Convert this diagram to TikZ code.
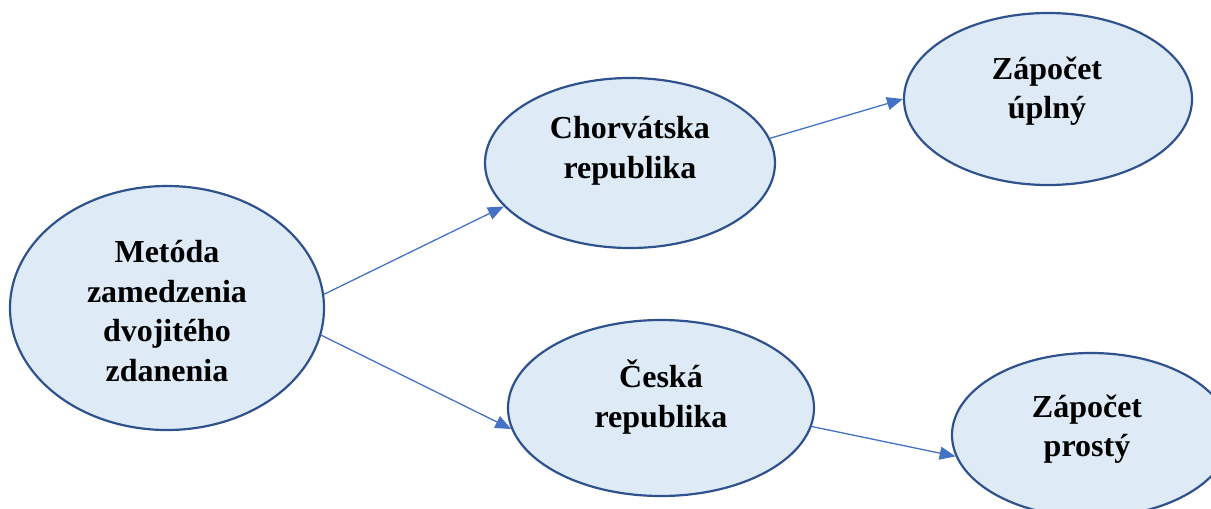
\documentclass[tikz,border=0pt]{standalone}
\usepackage{fontspec}
\setmainfont{Liberation Serif}
\usetikzlibrary{shapes.geometric,arrows.meta}
\definecolor{efill}{RGB}{222,235,247}
\definecolor{edraw}{RGB}{47,82,143}
\definecolor{aline}{RGB}{68,114,196}
\begin{document}
\begin{tikzpicture}[x=0.5pt,y=-0.5pt,
  oval/.style={ellipse,draw=edraw,fill=efill,line width=1.1pt,inner sep=0pt},
  lbl/.style={align=center,font=\fontsize{16}{19.75}\selectfont\bfseries,inner sep=0pt},
  conn/.style={draw=aline,line width=0.65pt,-{Triangle[length=8pt,width=6.5pt]}}]
\useasboundingbox (0,0) rectangle (1211,509);
\clip (0,0) rectangle (1211,509);
\node[oval,minimum width=157pt,minimum height=122pt] (left) at (167,308) {};
\node[oval,minimum width=145pt,minimum height=85pt] (chor) at (630,163) {};
\node[oval,minimum width=144pt,minimum height=86pt] (upl) at (1048,99) {};
\node[oval,minimum width=153pt,minimum height=88pt] (ceska) at (661,408) {};
\node[oval,minimum width=139pt,minimum height=82pt] (prosty) at (1091,435) {};
\node[lbl] (tleft) at (167,311) {Metóda\\zamedzenia\\dvojitého\\zdanenia};
\node[lbl] (tchor) at (630,151) {Chorvátska\\republika};
\node[lbl] (tupl) at (1047,91) {Zápočet\\úplný};
\node[lbl] (tceska) at (661,397) {Česká\\republika};
\node[lbl] (tprosty) at (1087,429) {Zápočet\\prostý};
\draw[conn] (left.5) -- (chor.199);
\draw[conn] (left.-10) -- (ceska.188);
\draw[conn] (chor.10) -- (upl.180);
\draw[conn] (ceska.-7) -- (prosty.189);
\end{tikzpicture}
\end{document}
